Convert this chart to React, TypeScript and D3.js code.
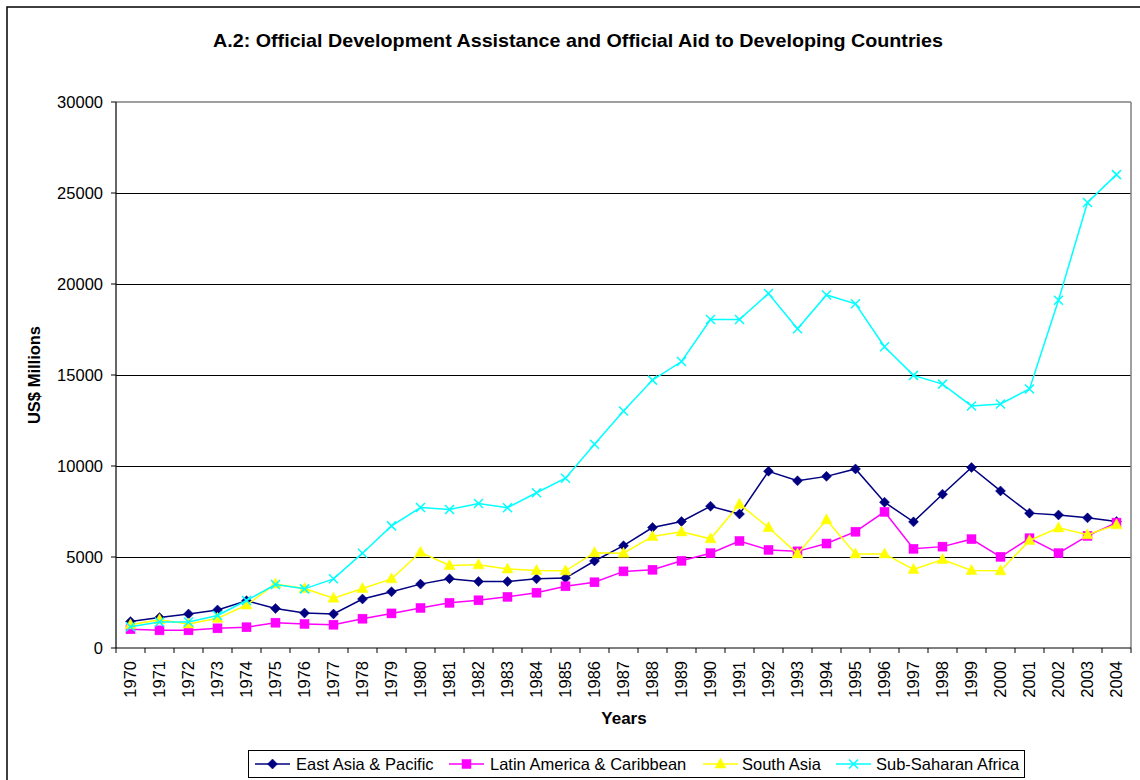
import * as d3 from "d3";

const years = d3.range(1970, 2005).map(String);

const eastAsia = [1450, 1670, 1870, 2090, 2600, 2170, 1920, 1870, 2690, 3090, 3510, 3810, 3650, 3650, 3800, 3840, 4780, 5620, 6620, 6950, 7790, 7360, 9710, 9190, 9430, 9840, 8010, 6930, 8450, 9920, 8630, 7410, 7310, 7150, 6950];
const latinAmerica = [1030, 970, 970, 1080, 1140, 1390, 1320, 1280, 1610, 1900, 2200, 2480, 2620, 2810, 3040, 3390, 3610, 4210, 4300, 4790, 5210, 5880, 5390, 5310, 5740, 6390, 7480, 5450, 5570, 5980, 5010, 6030, 5210, 6160, 6890];
const southAsia = [1280, 1550, 1320, 1630, 2360, 3520, 3270, 2740, 3270, 3800, 5260, 4530, 4570, 4340, 4260, 4240, 5240, 5210, 6130, 6380, 6000, 7900, 6620, 5170, 7040, 5170, 5170, 4320, 4860, 4260, 4240, 5910, 6600, 6220, 6770];
const subSaharan = [1170, 1430, 1430, 1790, 2610, 3490, 3250, 3800, 5210, 6710, 7720, 7610, 7940, 7710, 8530, 9330, 11190, 13020, 14720, 15740, 18050, 18050, 19480, 17540, 19400, 18910, 16550, 14980, 14500, 13300, 13410, 14230, 19110, 24480, 26010];

const yTicks = [0, 5000, 10000, 15000, 20000, 25000, 30000];

const seriesNames = ["East Asia & Pacific", "Latin America & Caribbean", "South Asia", "Sub-Saharan Africa"];
const seriesColors = ["#000080", "#FF00FF", "#FFFF00", "#00FFFF"];
const seriesMarkers = ["diamond", "square", "triangle", "x"];
const seriesValues = [eastAsia, latinAmerica, southAsia, subSaharan];

const W = 1140;
const H = 780;
const left = 116;
const right = 1131;
const top = 102;
const bottom = 648;
const font = "Liberation Sans, Arial, sans-serif";

const Marker = ({ type, x, y, color }: { type: string; x: number; y: number; color: string }) => {
  if (type === "diamond") {
    const r = 5;
    return <path d={`M${x},${y - r}L${x + r},${y}L${x},${y + r}L${x - r},${y}Z`} fill={color} stroke={color} strokeWidth={0.5} />;
  }
  if (type === "square") {
    return <rect x={x - 4.5} y={y - 4.5} width={9} height={9} fill={color} stroke={color} strokeWidth={0.5} />;
  }
  if (type === "triangle") {
    return <path d={`M${x},${y - 6}L${x + 5.5},${y + 4}L${x - 5.5},${y + 4}Z`} fill={color} stroke={color} strokeWidth={0.5} />;
  }
  const r = 4.5;
  return <path d={`M${x - r},${y - r}L${x + r},${y + r}M${x - r},${y + r}L${x + r},${y - r}`} stroke={color} strokeWidth={1.5} fill="none" />;
};

export default function App() {
  const x = d3.scaleBand().domain(years).range([left, right]).padding(0);
  const y = d3.scaleLinear().domain([0, 30000]).range([bottom, top]);
  const cx = (yr: string) => (x(yr) as number) + x.bandwidth() / 2;

  const line = d3
    .line<number>()
    .x((_, i) => cx(years[i]))
    .y((d) => y(d));

  const legendItems = [
    { lx: 255, tx: 296 },
    { lx: 449, tx: 490 },
    { lx: 703, tx: 742 },
    { lx: 836, tx: 876 },
  ];

  return (
    <div style={{ position: "absolute", left: 0, top: 0 }}>
      <svg width={W} height={H} style={{ display: "block" }} fontFamily={font}>
        <rect x={0} y={0} width={W} height={H} fill="#fff" />
        <rect x={7} y={7} width={W + 10} height={H + 10} fill="none" stroke="#000" strokeWidth={1.5} />

        <text x={578} y={47} textAnchor="middle" fontSize={19} fontWeight={700} textLength={730} lengthAdjust="spacingAndGlyphs">
          A.2: Official Development Assistance and Official Aid to Developing Countries
        </text>

        {/* grid */}
        {yTicks.slice(1, -1).map((t) => (
          <line key={t} x1={left} x2={right} y1={Math.round(y(t)) + 0.5} y2={Math.round(y(t)) + 0.5} stroke="#000" strokeWidth={1} />
        ))}
        <line x1={left} x2={right} y1={top} y2={top} stroke="#808080" strokeWidth={1.5} />
        <line x1={right} x2={right} y1={top} y2={bottom} stroke="#808080" strokeWidth={1.5} />

        {/* axes */}
        <line x1={left} x2={left} y1={top} y2={bottom} stroke="#000" strokeWidth={1.2} />
        <line x1={left} x2={right} y1={bottom} y2={bottom} stroke="#000" strokeWidth={1.2} />
        {yTicks.map((t) => (
          <g key={t}>
            <line x1={left - 5} x2={left} y1={y(t)} y2={y(t)} stroke="#000" />
            <text x={103} y={y(t)} dy="0.35em" textAnchor="end" fontSize={16.5}>
              {t}
            </text>
          </g>
        ))}
        {years.map((yr) => (
          <line key={"t" + yr} x1={x(yr) as number} x2={x(yr) as number} y1={bottom} y2={bottom + 5} stroke="#000" />
        ))}
        <line x1={right} x2={right} y1={bottom} y2={bottom + 5} stroke="#000" />
        {years.map((yr) => (
          <text
            key={"l" + yr}
            transform={`translate(${cx(yr)},${661}) rotate(-90)`}
            textAnchor="end"
            dy="0.35em"
            fontSize={16.5}
          >
            {yr}
          </text>
        ))}

        <text transform="translate(40,375) rotate(-90)" textAnchor="middle" fontSize={16.5} fontWeight={700}>
          US$ Millions
        </text>
        <text x={624} y={724} textAnchor="middle" fontSize={17} fontWeight={700}>
          Years
        </text>

        {/* series */}
        {seriesValues.map((vals, s) => (
          <g key={s}>
            <path d={line(vals) as string} fill="none" stroke={seriesColors[s]} strokeWidth={1.5} />
            {vals.map((v, i) => (
              <Marker key={i} type={seriesMarkers[s]} x={cx(years[i])} y={y(v)} color={seriesColors[s]} />
            ))}
          </g>
        ))}

        {/* legend */}
        <rect x={248.5} y={750.5} width={776} height={27} fill="#fff" stroke="#000" strokeWidth={1} />
        {seriesNames.map((n, s) => (
          <g key={n}>
            <line x1={legendItems[s].lx} x2={legendItems[s].lx + 35} y1={764} y2={764} stroke={seriesColors[s]} strokeWidth={1.5} />
            <Marker type={seriesMarkers[s]} x={legendItems[s].lx + 17.5} y={764} color={seriesColors[s]} />
            <text x={legendItems[s].tx} y={764} dy="0.35em" fontSize={16.5}>
              {n}
            </text>
          </g>
        ))}
      </svg>
    </div>
  );
}
